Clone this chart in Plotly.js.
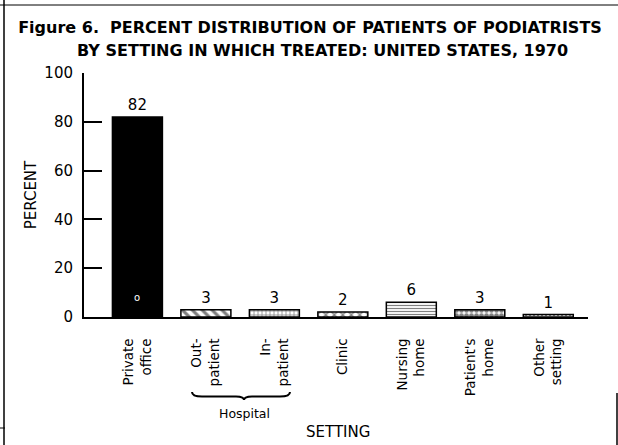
<!DOCTYPE html>
<html>
<head>
<meta charset="utf-8">
<script src="https://cdn.plot.ly/plotly-3.0.1.min.js"></script>
<style>html,body{margin:0;padding:0;background:#fff;}#chart{width:618px;height:445px;}</style>
</head>
<body>
<div id="chart"></div>
<script>
var categories = ["Private<br>office", "Out-<br>patient", "In-<br>patient", "Clinic", "Nursing<br>home", "Patient's<br>home", "Other<br>setting"];
var percents = [82, 3, 3, 2, 6, 3, 1];
var valueLabels = ["82", "3", "3", "2", "6", "3", "1"];
var yTickVals = [0, 20, 40, 60, 80, 100];
var yTickText = ["0", "20", "40", "60", "80", "100"];
var groupLabel = "Hospital";
var titleLine1 = "Figure 6.  PERCENT DISTRIBUTION OF PATIENTS OF PODIATRISTS";
var titleLine2 = "BY SETTING IN WHICH TREATED: UNITED STATES, 1970";

var FONT = "DejaVu Sans, Arial, sans-serif";
var xs = categories.map(function(_, i){ return i; });

var fills = ["#000", "#fff", "#fff", "#fff", "#fff", "#fff", "#fff"];
var pShapes = ["", "\\", "+", "x", "-", ".", "."];
var pSizes = [6, 7, 4, 6, 3, 5, 4];
var pSolid = [0.3, 0.45, 0.35, 0.4, 0.4, 0.7, 0.35];

var traces = xs.map(function(i){
  var m = {color: fills[i], line: {color: "#000", width: 1.5}};
  if (pShapes[i]) {
    m.pattern = {shape: pShapes[i], fgcolor: "#000", bgcolor: "#fff", size: pSizes[i], solidity: pSolid[i], fillmode: "overlay"};
  }
  return {
    type: "bar",
    x: [xs[i]],
    y: [percents[i]],
    width: 0.73,
    text: [valueLabels[i]],
    textposition: "outside",
    cliponaxis: false,
    textfont: {family: FONT, size: 15, color: "#000"},
    marker: m,
    hoverinfo: "none"
  };
});

function px(p){ return (p - 84) / 504; }
function py(p){ return (317 - p) / 244; }

var bx1 = px(192), bx2 = px(290), bxc = px(244);
var yEnd = py(392), yMid = py(396.5), yTip = py(400);
var bracePath = "M" + bx1 + "," + yEnd +
  " Q" + bx1 + "," + yMid + " " + px(202) + "," + yMid +
  " L" + px(236) + "," + yMid +
  " Q" + bxc + "," + yMid + " " + bxc + "," + yTip +
  " Q" + bxc + "," + yMid + " " + px(252) + "," + yMid +
  " L" + px(280) + "," + yMid +
  " Q" + bx2 + "," + yMid + " " + bx2 + "," + yEnd;

var titleFont = {family: FONT, size: 16, color: "#000", weight: "bold"};

var layout = {
  width: 618, height: 445,
  margin: {l: 84, r: 30, t: 73, b: 128, pad: 0},
  paper_bgcolor: "#fff",
  plot_bgcolor: "#fff",
  showlegend: false,
  barmode: "overlay",
  title: {
    text: titleLine1,
    font: titleFont,
    x: 310 / 618, xanchor: "center", xref: "container",
    y: 1 - 27 / 445, yanchor: "middle", yref: "container"
  },
  xaxis: {
    range: [-0.78, 6.58],
    tickmode: "array",
    tickvals: xs,
    ticktext: categories,
    tickangle: -90,
    ticks: "",
    showline: true, linecolor: "#000", linewidth: 2,
    showgrid: false, zeroline: false,
    ticklabelstandoff: 14,
    tickfont: {family: FONT, size: 13.5, color: "#000"},
    fixedrange: true
  },
  yaxis: {
    range: [0, 100],
    tickmode: "array",
    tickvals: yTickVals,
    ticktext: yTickText,
    ticks: "inside", ticklen: 18, tickwidth: 2, tickcolor: "#000",
    showline: true, linecolor: "#000", linewidth: 2,
    showgrid: false, zeroline: false,
    ticklabelstandoff: 6,
    tickfont: {family: FONT, size: 15, color: "#000"},
    title: {text: "PERCENT", font: {family: FONT, size: 15, color: "#000"}, standoff: 4},
    fixedrange: true
  },
  annotations: [
    {xref: "paper", yref: "paper", x: px(322), y: py(50), text: titleLine2, showarrow: false,
     font: titleFont, xanchor: "center", yanchor: "middle"},
    {xref: "paper", yref: "paper", x: bxc, y: py(413), text: groupLabel, showarrow: false,
     font: {family: FONT, size: 12.5, color: "#000"}, xanchor: "center", yanchor: "middle"},
    {xref: "paper", yref: "paper", x: px(338), y: py(432), text: "SETTING", showarrow: false,
     font: {family: FONT, size: 15, color: "#000"}, xanchor: "center", yanchor: "middle"},
    {xref: "x", yref: "y", x: 0, y: 8, text: "o", showarrow: false,
     font: {family: FONT, size: 10, color: "#fff"}, xanchor: "center", yanchor: "middle"}
  ],
  shapes: [
    {type: "path", xref: "paper", yref: "paper", path: bracePath, line: {color: "#000", width: 2}},
    {type: "line", xref: "paper", yref: "paper", x0: px(4), x1: px(4), y0: py(0), y1: py(445), line: {color: "#000", width: 1.5}},
    {type: "line", xref: "paper", yref: "paper", x0: px(0), x1: px(618), y0: py(5), y1: py(5), line: {color: "#000", width: 1}},
    {type: "line", xref: "paper", yref: "paper", x0: px(617), x1: px(617), y0: py(393), y1: py(445), line: {color: "#000", width: 1.5}},
    {type: "line", xref: "paper", yref: "paper", x0: px(0), x1: px(5), y0: py(428), y1: py(428), line: {color: "#000", width: 1}}
  ]
};

Plotly.newPlot("chart", traces, layout, {displayModeBar: false, staticPlot: true});
</script>
</body>
</html>
